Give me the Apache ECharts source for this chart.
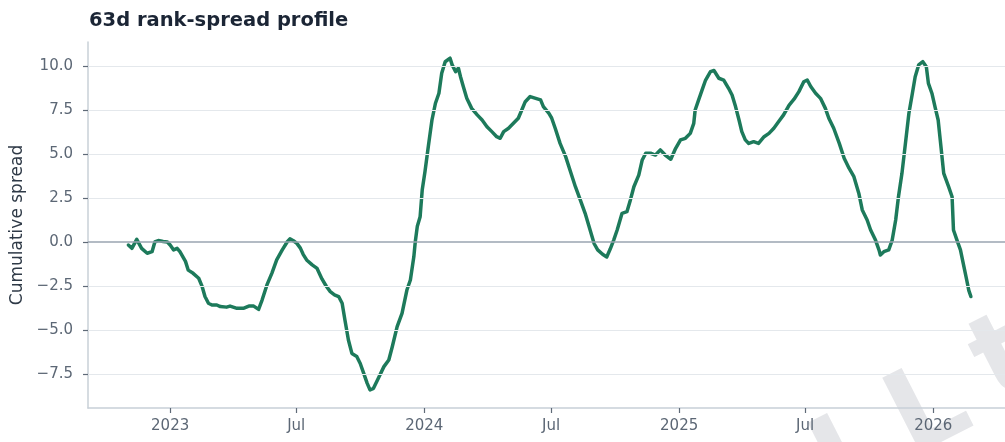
<!DOCTYPE html>
<html>
<head>
<meta charset="utf-8">
<title>63d rank-spread profile</title>
<script src="https://cdn.jsdelivr.net/npm/echarts@6/dist/echarts.min.js"></script>
<style>
  html, body { margin: 0; padding: 0; background: #fff; }
  #chart { width: 1005px; height: 442px; }
</style>
</head>
<body>
<div id="chart"></div>
<script>
// sampled points of the 63d cumulative rank spread
const dates = [
  "2022-11-02","2022-11-07","2022-11-14","2022-11-21","2022-11-29","2022-12-06","2022-12-10","2022-12-15","2022-12-22","2022-12-28",
  "2023-01-01","2023-01-06","2023-01-11","2023-01-15","2023-01-23","2023-01-27","2023-02-03","2023-02-11","2023-02-16","2023-02-20",
  "2023-02-25","2023-03-02","2023-03-09","2023-03-14","2023-03-23","2023-03-28","2023-04-07","2023-04-16","2023-04-24","2023-05-01",
  "2023-05-08","2023-05-13","2023-05-20","2023-05-27","2023-06-03","2023-06-11","2023-06-18","2023-06-22","2023-06-27","2023-07-02",
  "2023-07-07","2023-07-11","2023-07-16","2023-07-24","2023-07-31","2023-08-07","2023-08-13","2023-08-19","2023-08-25","2023-08-31",
  "2023-09-05","2023-09-09","2023-09-14","2023-09-19","2023-09-26","2023-10-01","2023-10-06","2023-10-11","2023-10-15","2023-10-20",
  "2023-10-27","2023-11-04","2023-11-11","2023-11-16","2023-11-23","2023-11-30","2023-12-07","2023-12-12","2023-12-17","2023-12-19",
  "2023-12-22","2023-12-26","2023-12-29","2024-01-02","2024-01-07","2024-01-12","2024-01-17","2024-01-22","2024-01-26","2024-01-31",
  "2024-02-07","2024-02-10","2024-02-15","2024-02-19","2024-02-22","2024-02-26","2024-03-02","2024-03-09","2024-03-17","2024-03-24",
  "2024-03-31","2024-04-07","2024-04-14","2024-04-19","2024-04-24","2024-05-01","2024-05-08","2024-05-15","2024-05-20","2024-05-25",
  "2024-06-01","2024-06-09","2024-06-16","2024-06-20","2024-06-28","2024-07-02","2024-07-07","2024-07-14","2024-07-22","2024-07-29",
  "2024-08-05","2024-08-12","2024-08-19","2024-08-24","2024-08-29","2024-09-01","2024-09-06","2024-09-13","2024-09-19","2024-09-24",
  "2024-09-29","2024-10-04","2024-10-11","2024-10-18","2024-10-23","2024-10-28","2024-11-04","2024-11-09","2024-11-14","2024-11-21",
  "2024-11-28","2024-12-05","2024-12-12","2024-12-20","2024-12-27","2025-01-03","2025-01-10","2025-01-17","2025-01-22","2025-01-24",
  "2025-01-29","2025-02-03","2025-02-08","2025-02-15","2025-02-20","2025-02-27","2025-03-06","2025-03-13","2025-03-18","2025-03-23",
  "2025-03-28","2025-04-01","2025-04-06","2025-04-11","2025-04-18","2025-04-25","2025-05-03","2025-05-10","2025-05-17","2025-05-24",
  "2025-05-31","2025-06-08","2025-06-15","2025-06-22","2025-06-29","2025-07-04","2025-07-09","2025-07-16","2025-07-23","2025-07-30",
  "2025-08-04","2025-08-11","2025-08-19","2025-08-26","2025-09-02","2025-09-09","2025-09-16","2025-09-21","2025-09-28","2025-10-03",
  "2025-10-10","2025-10-15","2025-10-17","2025-10-22","2025-10-29","2025-11-03","2025-11-08","2025-11-12","2025-11-17","2025-11-22",
  "2025-11-27","2025-12-02","2025-12-06","2025-12-11","2025-12-17","2025-12-22","2025-12-25","2025-12-30","2026-01-04","2026-01-08",
  "2026-01-11","2026-01-16","2026-01-23","2026-01-28","2026-01-30","2026-02-04","2026-02-09","2026-02-14","2026-02-18","2026-02-21",
  "2026-02-24"
];
const spread = [
  -0.17,-0.36,0.15,-0.36,-0.64,-0.55,0.0,0.08,0.03,0.0,
  -0.17,-0.45,-0.36,-0.55,-1.1,-1.6,-1.78,-2.06,-2.54,-3.1,
  -3.48,-3.58,-3.58,-3.67,-3.7,-3.64,-3.77,-3.77,-3.64,-3.64,
  -3.83,-3.3,-2.44,-1.78,-1.02,-0.45,0.0,0.18,0.07,-0.08,
  -0.35,-0.7,-1.02,-1.3,-1.5,-2.1,-2.5,-2.82,-3.0,-3.1,
  -3.48,-4.43,-5.57,-6.33,-6.5,-6.9,-7.46,-8.03,-8.4,-8.31,
  -7.74,-7.08,-6.7,-5.95,-4.81,-4.05,-2.73,-2.16,-0.83,0.0,
  0.9,1.44,2.95,4.0,5.5,6.93,7.88,8.45,9.58,10.24,
  10.44,10.06,9.68,9.87,9.39,8.83,8.16,7.59,7.22,6.93,
  6.55,6.27,5.98,5.89,6.27,6.46,6.74,7.03,7.5,7.97,
  8.26,8.16,8.07,7.69,7.31,7.03,6.46,5.6,4.85,3.99,
  3.14,2.39,1.63,0.97,0.3,-0.1,-0.45,-0.7,-0.85,-0.4,
  0.11,0.68,1.63,1.72,2.39,3.14,3.8,4.66,5.04,5.04,
  4.94,5.23,4.94,4.7,5.32,5.8,5.89,6.17,6.74,7.5,
  8.07,8.64,9.2,9.68,9.74,9.3,9.2,8.73,8.35,7.69,
  6.93,6.27,5.8,5.6,5.7,5.6,5.98,6.17,6.46,6.84,
  7.22,7.78,8.11,8.54,9.1,9.2,8.83,8.45,8.16,7.59,
  7.03,6.46,5.6,4.76,4.19,3.71,2.77,1.82,1.25,0.68,
  0.11,-0.45,-0.74,-0.55,-0.45,0.11,1.25,2.57,3.9,5.6,
  7.31,8.45,9.39,10.06,10.24,9.96,9.01,8.45,7.59,6.93,
  5.8,3.9,3.14,2.57,0.68,0.11,-0.45,-1.4,-2.16,-2.75,
  -3.1
];
const yTicks = [-7.5, -5, -2.5, 0, 2.5, 5, 7.5, 10];
const xTicks = ["2023-01-01", "2023-07-01", "2024-01-01", "2024-07-01", "2025-01-01", "2025-07-01", "2026-01-01"];

const FONT = "DejaVu Sans";
const toTime = s => { const p = s.split("-"); return +new Date(+p[0], +p[1] - 1, +p[2]); };
const xTickTimes = xTicks.map(toTime);
const fmtY = v => (v < 0 ? "\u2212" : "") + Math.abs(v).toFixed(1);
const fmtX = v => { const d = new Date(v); return d.getMonth() === 0 ? String(d.getFullYear()) : "Jul"; };
const WM = "bold 115px 'DejaVu Sans'";
const WM_ROT = 27 * Math.PI / 180;

const chart = echarts.init(document.getElementById("chart"), null, { renderer: "canvas" });
chart.setOption({
  animation: false,
  backgroundColor: "#ffffff",
  title: {
    text: "63d rank-spread profile",
    left: 84,
    top: 6,
    textStyle: { fontFamily: FONT, fontSize: 19.5, fontWeight: "bold", color: "#1b2535" }
  },
  grid: { left: 88, right: 0, top: 42, bottom: 34, containLabel: false },
  xAxis: {
    // dates as timestamps on a value axis so the ticks can be pinned
    type: "value",
    min: toTime("2022-09-05"),
    max: toTime("2026-04-14"),
    axisLine: { show: true, onZero: false, lineStyle: { color: "#c8d0d7", width: 1.5 } },
    axisTick: { show: true, customValues: xTickTimes, length: 5, lineStyle: { color: "#5f6a77", width: 1.2 } },
    axisLabel: {
      customValues: xTickTimes,
      margin: 11,
      fontFamily: FONT, fontSize: 15, color: "#5c6775",
      formatter: fmtX
    },
    splitLine: { show: false }
  },
  yAxis: {
    type: "value",
    min: -9.43,
    max: 11.36,
    name: "Cumulative spread",
    nameLocation: "middle",
    nameGap: 61,
    nameTextStyle: { fontFamily: FONT, fontSize: 17, color: "#2f3a47" },
    axisLine: { show: true, onZero: false, lineStyle: { color: "#c8d0d7", width: 1.5 } },
    axisTick: { show: true, customValues: yTicks, length: 5, lineStyle: { color: "#5f6a77", width: 1.2 } },
    axisLabel: {
      customValues: yTicks,
      margin: 15,
      fontFamily: FONT, fontSize: 15, color: "#5c6775",
      formatter: fmtY
    },
    splitLine: { show: false }
  },
  graphic: [
    // faint watermark partly visible in the lower-right corner
    { type: "text", x: 842, y: 466, rotation: WM_ROT, z: -1, silent: true,
      style: { text: "I", font: WM, fill: "#e5e6e9", align: "center", verticalAlign: "middle" } },
    { type: "text", x: 930, y: 414, rotation: WM_ROT, z: -1, silent: true,
      style: { text: "L", font: WM, fill: "#e5e6e9", align: "center", verticalAlign: "middle" } },
    { type: "text", x: 1006, y: 362, rotation: WM_ROT, z: -1, silent: true,
      style: { text: "t", font: WM, fill: "#e5e6e9", align: "center", verticalAlign: "middle" } }
  ],
  series: [
    {
      // grid lines + zero line
      type: "line",
      data: [],
      z: 1,
      silent: true,
      markLine: {
        silent: true,
        symbol: "none",
        label: { show: false },
        emphasis: { disabled: true },
        data: yTicks.map(v => ({
          yAxis: v,
          lineStyle: v === 0
            ? { color: "#9aa5b0", width: 1.5, type: "solid" }
            : { color: "#e4e8ec", width: 1.2, type: "solid" }
        }))
      }
    },
    {
      name: "Cumulative spread",
      type: "line",
      z: 3,
      showSymbol: false,
      data: dates.map((d, i) => [toTime(d), spread[i]]),
      lineStyle: { color: "#1d7a5b", width: 3.5, cap: "round", join: "round" },
      itemStyle: { color: "#1d7a5b" }
    }
  ]
});
</script>
</body>
</html>
